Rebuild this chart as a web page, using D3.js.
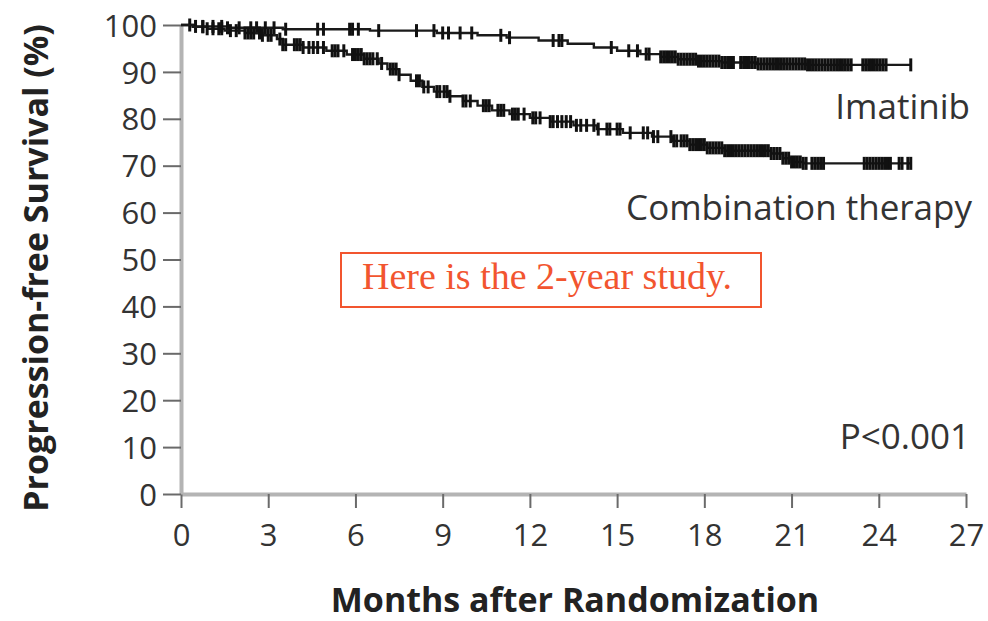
<!DOCTYPE html>
<html>
<head>
<meta charset="utf-8">
<script src="https://cdn.jsdelivr.net/npm/d3@7"></script>
<style>
  body { margin: 0; background: #fff; }
  svg { display: block; }
</style>
</head>
<body>
<div id="chart"></div>
<script>
// Kaplan-Meier steps: [month, % progression-free]
const imatinibSteps = [
  [0, 100], [0.5, 99.7], [1.6, 99.4], [3.5, 99.1], [6.5, 98.8], [8.8, 98.3],
  [10.2, 97.8], [11.2, 97.3], [12.3, 96.7], [13.3, 96.0], [14.2, 95.2],
  [15.0, 94.5], [15.8, 93.8], [16.5, 93.2], [17.1, 92.7], [17.8, 92.3],
  [18.6, 92.0], [19.8, 91.7], [21.5, 91.5]
];
const imatinibEnd = 25.1;

const comboSteps = [
  [0, 100], [0.4, 99.6], [0.9, 99.2], [1.5, 98.8], [2.2, 98.3], [2.8, 97.8],
  [3.3, 97.0], [3.5, 95.8], [4.2, 95.2], [5.0, 94.5], [5.7, 93.7], [6.3, 92.8],
  [6.8, 91.8], [7.1, 90.6], [7.5, 89.4], [7.9, 88.1], [8.3, 86.8], [8.7, 85.8],
  [9.2, 84.8], [9.7, 83.8], [10.2, 82.8], [10.7, 81.8], [11.3, 81.0], [12.0, 80.2],
  [12.7, 79.4], [13.5, 78.6], [14.3, 77.8], [15.2, 77.0], [16.2, 76.2], [16.9, 75.3],
  [17.5, 74.5], [18.1, 73.8], [18.7, 73.2], [20.3, 72.6], [20.7, 71.6], [21.0, 70.8],
  [21.4, 70.5]
];
const comboEnd = 25.1;

// censored observations (tick marks)
const imatinibCensor = [
  0.3, 0.5, 0.75, 1.1, 1.4, 1.6, 2.0, 2.4, 2.6, 2.9, 3.2, 3.6, 4.7, 4.9, 5.8, 5.9,
  6.1, 6.8, 8.1, 8.7, 9.0, 9.2, 9.6, 10.0, 11.0, 11.3, 12.8, 13.0, 13.1, 14.8,
  15.4, 15.7, 16.0, 16.1,
  16.5, 16.6, 16.7, 16.8, 16.9, 17.0, 17.1, 17.2, 17.3, 17.4, 17.5, 17.6, 17.7,
  17.8, 17.9, 18.0, 18.1, 18.2, 18.3, 18.4, 18.5, 18.6, 18.7, 18.8, 18.9, 19.0,
  19.25, 19.35, 19.45, 19.55, 19.65, 19.75, 19.85, 19.95, 20.05, 20.15, 20.25,
  20.35, 20.45, 20.55, 20.65, 20.75, 20.85, 20.95, 21.05, 21.15, 21.25, 21.35,
  21.45, 21.55, 21.65, 21.75, 21.85, 21.95, 22.05, 22.15, 22.25, 22.35, 22.45,
  22.55, 22.65, 22.75, 22.85, 22.95, 23.05,
  23.45, 23.55, 23.65, 23.75, 23.85, 23.95, 24.05, 24.15, 24.25,
  25.1
];
const comboCensor = [
  0.75, 0.9, 1.1, 1.3, 1.4, 1.7, 1.9, 2.2, 2.3, 2.4, 2.5, 2.7, 2.8, 3.0, 3.1,
  3.4, 3.5, 3.6, 3.9, 4.0, 4.1, 4.2, 4.4, 4.55, 4.7, 4.9, 5.2, 5.3, 5.4, 5.6,
  5.9, 6.0, 6.1, 6.2, 6.3, 6.4, 6.5, 6.6, 6.75, 6.9, 7.2, 7.3, 7.4, 7.5,
  8.1, 8.2, 8.35, 8.5, 8.8, 8.9, 9.05, 9.15, 9.25, 9.7, 9.8, 9.95, 10.4, 10.5, 10.6,
  10.9, 11.0, 11.1, 11.4, 11.5, 11.6, 11.8, 12.1, 12.2, 12.35, 12.7, 12.8, 12.95,
  13.1, 13.25, 13.4, 13.6, 13.75, 13.95, 14.2, 14.35, 14.65, 14.75, 15.0, 15.1,
  15.45, 15.9, 16.05, 16.25, 16.4, 16.85, 16.95, 17.05, 17.2,
  17.3, 17.4, 17.5, 17.6, 17.7, 17.8, 17.9, 18.0, 18.1, 18.2, 18.3, 18.4, 18.5,
  18.6, 18.7, 18.8, 18.9, 19.0, 19.1, 19.2, 19.3, 19.4, 19.5, 19.6, 19.7, 19.8,
  19.9, 20.0, 20.1, 20.2, 20.3, 20.4, 20.5, 20.6, 20.7, 20.8, 20.9, 21.0, 21.1,
  21.2, 21.3, 21.4, 21.5, 21.7, 21.8, 21.9, 22.0, 22.1,
  23.5, 23.6, 23.7, 23.8, 23.9, 24.0, 24.1, 24.2, 24.3, 24.4,
  24.7, 24.8, 25.0, 25.1
];

const xTicks = [0, 3, 6, 9, 12, 15, 18, 21, 24, 27];
const yTicks = [0, 10, 20, 30, 40, 50, 60, 70, 80, 90, 100];

const width = 988, height = 621;
const labelFont = "'Open Sans', 'DejaVu Sans', sans-serif";

const x = d3.scaleLinear().domain([0, 27]).range([181, 966]);
const y = d3.scaleLinear().domain([0, 100]).range([494, 25]);

const svg = d3.select("#chart").append("svg")
    .attr("width", width)
    .attr("height", height)
    .style("background", "#fff");

// axes
const xAxis = svg.append("g")
    .attr("transform", `translate(0,${y(0)})`)
    .call(d3.axisBottom(x).tickValues(xTicks).tickSize(14).tickSizeOuter(0).tickPadding(16));

const yAxis = svg.append("g")
    .attr("transform", `translate(${x(0)},0)`)
    .call(d3.axisLeft(y).tickValues(yTicks).tickSize(18).tickSizeOuter(0).tickPadding(6));

[xAxis, yAxis].forEach(g => {
    g.select(".domain").attr("stroke", "#b4b4b4").attr("stroke-width", 4);
    g.selectAll(".tick line").attr("stroke", "#6a6a6a").attr("stroke-width", 2);
    g.selectAll(".tick text")
        .attr("fill", "#333")
        .style("font-family", labelFont)
        .style("font-size", "31px");
});
yAxis.selectAll(".tick text").attr("dy", "0.36em");

// survival curves
const stepLine = d3.line()
    .x(d => x(d[0]))
    .y(d => y(d[1]))
    .curve(d3.curveStepAfter);

function stepAt(steps, t) {
    let v = steps[0][1];
    for (const s of steps) { if (s[0] <= t) v = s[1]; }
    return v;
}

const curves = [
    { steps: imatinibSteps, end: imatinibEnd, censor: imatinibCensor },
    { steps: comboSteps, end: comboEnd, censor: comboCensor }
];

curves.forEach(c => {
    const pts = c.steps.concat([[c.end, c.steps[c.steps.length - 1][1]]]);
    svg.append("path")
        .attr("d", stepLine(pts))
        .attr("fill", "none")
        .attr("stroke", "#1a1a1a")
        .attr("stroke-width", 2.4);

    svg.append("g")
        .selectAll("line")
        .data(c.censor)
        .join("line")
        .attr("x1", d => x(d))
        .attr("x2", d => x(d))
        .attr("y1", d => y(stepAt(c.steps, d)) - 6.5)
        .attr("y2", d => y(stepAt(c.steps, d)) + 6.5)
        .attr("stroke", "#111")
        .attr("stroke-width", 3);
});

// curve labels and p-value
svg.append("text")
    .attr("x", 970).attr("y", 119)
    .attr("text-anchor", "end")
    .style("font-family", labelFont).style("font-size", "35px")
    .attr("fill", "#333")
    .text("Imatinib");

svg.append("text")
    .attr("x", 972).attr("y", 220)
    .attr("text-anchor", "end")
    .style("font-family", labelFont).style("font-size", "35px")
    .attr("fill", "#333")
    .text("Combination therapy");

svg.append("text")
    .attr("x", 970).attr("y", 449)
    .attr("text-anchor", "end")
    .style("font-family", labelFont).style("font-size", "35px")
    .attr("fill", "#333")
    .text("P<0.001");

// axis titles
svg.append("text")
    .attr("x", 575).attr("y", 612)
    .attr("text-anchor", "middle")
    .style("font-family", labelFont).style("font-size", "34px").style("font-weight", "bold")
    .attr("fill", "#222")
    .text("Months after Randomization");

svg.append("text")
    .attr("transform", "translate(48,268) rotate(-90)")
    .attr("text-anchor", "middle")
    .style("font-family", labelFont).style("font-size", "34px").style("font-weight", "bold")
    .attr("fill", "#222")
    .text("Progression-free Survival (%)");

// annotation box
svg.append("rect")
    .attr("x", 341).attr("y", 253)
    .attr("width", 420).attr("height", 54)
    .attr("fill", "#fff")
    .attr("stroke", "#f2552f")
    .attr("stroke-width", 2);

svg.append("text")
    .attr("x", 547).attr("y", 289)
    .attr("text-anchor", "middle")
    .style("font-family", "'Liberation Serif', 'Times New Roman', serif")
    .style("font-size", "38px")
    .attr("fill", "#f2552f")
    .text("Here is the 2-year study.");
</script>
</body>
</html>
